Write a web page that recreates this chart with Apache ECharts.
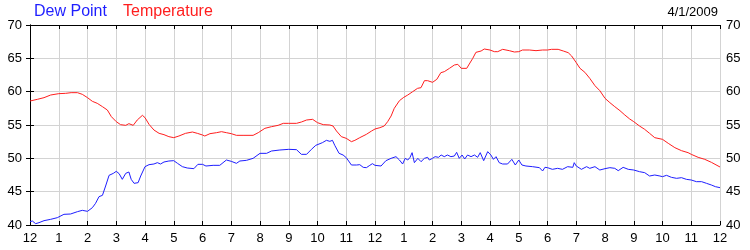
<!DOCTYPE html>
<html>
<head>
<meta charset="utf-8">
<script src="https://cdn.jsdelivr.net/npm/echarts@6/dist/echarts.min.js"></script>
<style>html,body{margin:0;padding:0;background:#fff}#c{width:750px;height:250px}</style>
</head>
<body>
<div id="c"></div>
<script>
// Hours after midnight and readings (deg F)
var tempHours = [0,0.255,0.487,0.719,1.0,1.24,1.43,1.65,1.82,2.0,2.17,2.34,2.52,2.69,2.83,3.0,3.15,3.33,3.44,3.59,3.73,3.91,4.0,4.14,4.31,4.49,4.66,4.83,5.0,5.18,5.41,5.65,5.82,6.0,6.08,6.26,6.49,6.66,6.83,7.0,7.18,7.41,7.76,7.94,8.0,8.17,8.40,8.63,8.81,9.0,9.27,9.44,9.62,9.83,10.0,10.2,10.43,10.54,10.66,10.83,11.0,11.18,11.30,11.47,11.70,11.88,12.0,12.17,12.32,12.44,12.56,12.67,12.85,13.0,13.14,13.31,13.48,13.6,13.72,13.83,14.0,14.15,14.29,14.41,14.59,14.76,14.88,15.0,15.19,15.28,15.40,15.51,15.69,15.80,16.0,16.15,16.27,16.44,16.67,16.85,17.0,17.13,17.37,17.6,17.83,18.0,18.14,18.37,18.55,18.72,18.84,19.0,19.13,19.30,19.47,19.65,19.82,20.0,20.17,20.34,20.52,20.69,20.86,21.0,21.2,21.38,21.55,21.73,22.0,22.2,22.43,22.66,22.89,23.0,23.24,23.47,23.7,24.0];
var tempValues = [58.6,58.85,59.1,59.5,59.7,59.75,59.85,59.85,59.6,59.1,58.55,58.25,57.75,57.25,56.25,55.5,55.05,54.95,55.2,54.95,55.75,56.45,56.1,55.1,54.25,53.75,53.55,53.25,53.1,53.35,53.75,53.95,53.75,53.5,53.35,53.7,53.85,54.0,53.85,53.7,53.45,53.45,53.45,53.85,54.1,54.5,54.75,54.95,55.25,55.25,55.25,55.45,55.75,55.85,55.35,55.05,55.0,54.85,54.1,53.25,53.0,52.5,52.7,53.1,53.6,54.1,54.4,54.6,54.85,55.5,56.35,57.5,58.65,59.15,59.5,60.0,60.5,60.6,61.65,61.65,61.4,61.85,62.85,63.0,63.5,64.0,64.1,63.5,63.5,64.15,65.0,65.9,66.1,66.4,66.25,66.0,66.0,66.35,66.15,65.95,66.0,66.25,66.25,66.15,66.25,66.25,66.35,66.35,66.1,65.85,65.35,64.35,63.5,62.9,62.0,60.9,60.15,59.0,58.35,57.75,57.15,56.5,55.9,55.5,54.85,54.35,53.75,53.1,52.85,52.25,51.6,51.15,50.85,50.6,50.15,49.85,49.4,48.7];
var dewHours = [0,0.081,0.197,0.313,0.487,0.719,0.951,1.0,1.18,1.41,1.65,1.82,2.0,2.17,2.28,2.40,2.52,2.63,2.75,2.90,3.0,3.1,3.21,3.33,3.44,3.52,3.62,3.76,3.85,4.0,4.14,4.31,4.43,4.54,4.66,4.83,5.0,5.13,5.30,5.47,5.70,5.84,6.0,6.12,6.37,6.60,6.83,7.0,7.18,7.30,7.53,7.76,8.0,8.23,8.40,8.69,9.0,9.27,9.44,9.62,9.79,9.94,10.0,10.17,10.31,10.43,10.52,10.6,10.75,10.89,11.0,11.18,11.36,11.47,11.59,11.70,11.82,11.91,12.0,12.21,12.38,12.56,12.73,12.85,12.96,13.05,13.14,13.22,13.29,13.37,13.49,13.6,13.72,13.83,13.89,14.0,14.09,14.21,14.3,14.41,14.52,14.64,14.76,14.84,14.93,15.03,15.12,15.22,15.34,15.46,15.57,15.66,15.78,15.92,16.03,16.12,16.21,16.32,16.44,16.61,16.76,16.88,17.0,17.11,17.25,17.48,17.72,17.83,17.91,18.0,18.17,18.35,18.52,18.70,18.88,18.93,19.0,19.18,19.36,19.47,19.65,19.82,20.0,20.17,20.34,20.46,20.63,20.81,21.0,21.2,21.38,21.55,21.73,21.91,22.0,22.14,22.31,22.49,22.66,22.83,23.0,23.18,23.36,23.53,23.7,23.84,24.0];
var dewValues = [40.5,40.6,40.2,40.35,40.65,40.85,41.1,41.05,41.6,41.65,42.0,42.2,42.05,42.6,43.25,44.25,44.45,45.85,47.45,47.75,48.05,47.7,46.85,47.75,47.95,46.85,46.25,46.35,47.35,48.75,49.05,49.15,49.35,49.15,49.45,49.6,49.65,49.25,48.75,48.55,48.45,49.1,49.1,48.85,48.95,48.95,49.75,49.55,49.25,49.6,49.7,50.0,50.75,50.75,51.1,51.25,51.35,51.3,50.6,50.6,51.35,51.95,51.85,52.35,52.7,52.55,52.7,51.95,50.75,50.5,50.1,49.0,49.0,49.05,48.65,48.6,48.95,49.2,48.95,48.85,49.65,50.0,50.25,49.75,49.15,50.0,49.75,50.15,50.85,49.35,50.0,49.5,50.0,50.15,49.75,50.0,50.25,50.15,50.5,50.25,50.5,50.25,50.35,50.9,50.0,50.5,49.9,50.5,50.25,50.5,50.15,50.85,49.65,51.0,50.5,49.85,50.25,49.35,49.15,49.15,49.85,49.0,49.75,49.0,48.85,48.75,48.6,48.1,48.65,48.6,48.35,48.5,48.35,48.75,48.65,49.35,48.85,48.35,48.75,48.5,48.75,48.25,48.45,48.6,48.5,48.15,48.65,48.35,48.25,48.0,47.85,47.35,47.5,47.35,47.25,47.45,47.15,47.0,47.1,46.85,46.75,46.5,46.5,46.25,46.0,45.75,45.6];
var hourLabels = ['12','1','2','3','4','5','6','7','8','9','10','11','12','1','2','3','4','5','6','7','8','9','10','11','12'];
var seriesNames = ['Dew Point','Temperature'];
var dateText = '4/1/2009';

function pairs(h, v){ return h.map(function(x,i){ return [x, v[i]]; }); }

var FONT = 'Liberation Sans, Arial, sans-serif';
var chart = echarts.init(document.getElementById('c'), null, {renderer:'canvas'});
var yAxisBase = {
  type:'value', min:40, max:70, interval:5,
  axisLine:{show:true, lineStyle:{color:'#000', width:1}},
  axisTick:{show:true, inside:true, length:4, lineStyle:{color:'#000'}},
  axisLabel:{color:'#000', fontSize:13, fontFamily:FONT},
  splitLine:{show:true, lineStyle:{color:'#d3d3d3', width:1}}
};
chart.setOption({
  animation:false,
  backgroundColor:'#fff',
  grid:{left:30, right:30, top:25, bottom:25, containLabel:false},
  graphic:[
    {type:'text', left:34, top:4, style:{text:seriesNames[0], fill:'#1e1eff', font:'16px ' + FONT}},
    {type:'text', left:123, top:4, style:{text:seriesNames[1], fill:'#ff1e1e', font:'16px ' + FONT}},
    {type:'text', right:32, top:6, style:{text:dateText, fill:'#000', font:'13px ' + FONT}}
  ],
  xAxis:[
    {type:'value', min:0, max:24, interval:1, position:'bottom',
     axisLine:{show:true, onZero:false, lineStyle:{color:'#000'}},
     axisTick:{show:true, inside:true, length:4, lineStyle:{color:'#000'}},
     axisLabel:{color:'#000', fontSize:13, fontFamily:FONT, margin:7,
       formatter:function(v){ return hourLabels[Math.round(v)]; }},
     splitLine:{show:true, lineStyle:{color:'#d3d3d3', width:1}}},
    {type:'value', min:0, max:24, interval:1, position:'top',
     axisLine:{show:true, onZero:false, lineStyle:{color:'#000'}},
     axisTick:{show:true, inside:true, length:4, lineStyle:{color:'#000'}},
     axisLabel:{show:false}, splitLine:{show:false}}
  ],
  yAxis:[
    Object.assign({}, yAxisBase, {position:'left', axisLabel:Object.assign({}, yAxisBase.axisLabel, {margin:8})}),
    Object.assign({}, yAxisBase, {position:'right', splitLine:{show:false}, axisLabel:Object.assign({}, yAxisBase.axisLabel, {margin:6})})
  ],
  series:[
    {name:seriesNames[1], type:'line', data:pairs(tempHours, tempValues), showSymbol:false,
     lineStyle:{color:'#ff1e1e', width:1}, itemStyle:{color:'#ff1e1e'}},
    {name:seriesNames[0], type:'line', data:pairs(dewHours, dewValues), showSymbol:false,
     lineStyle:{color:'#1e1eff', width:1}, itemStyle:{color:'#1e1eff'}}
  ]
});
</script>
</body>
</html>
